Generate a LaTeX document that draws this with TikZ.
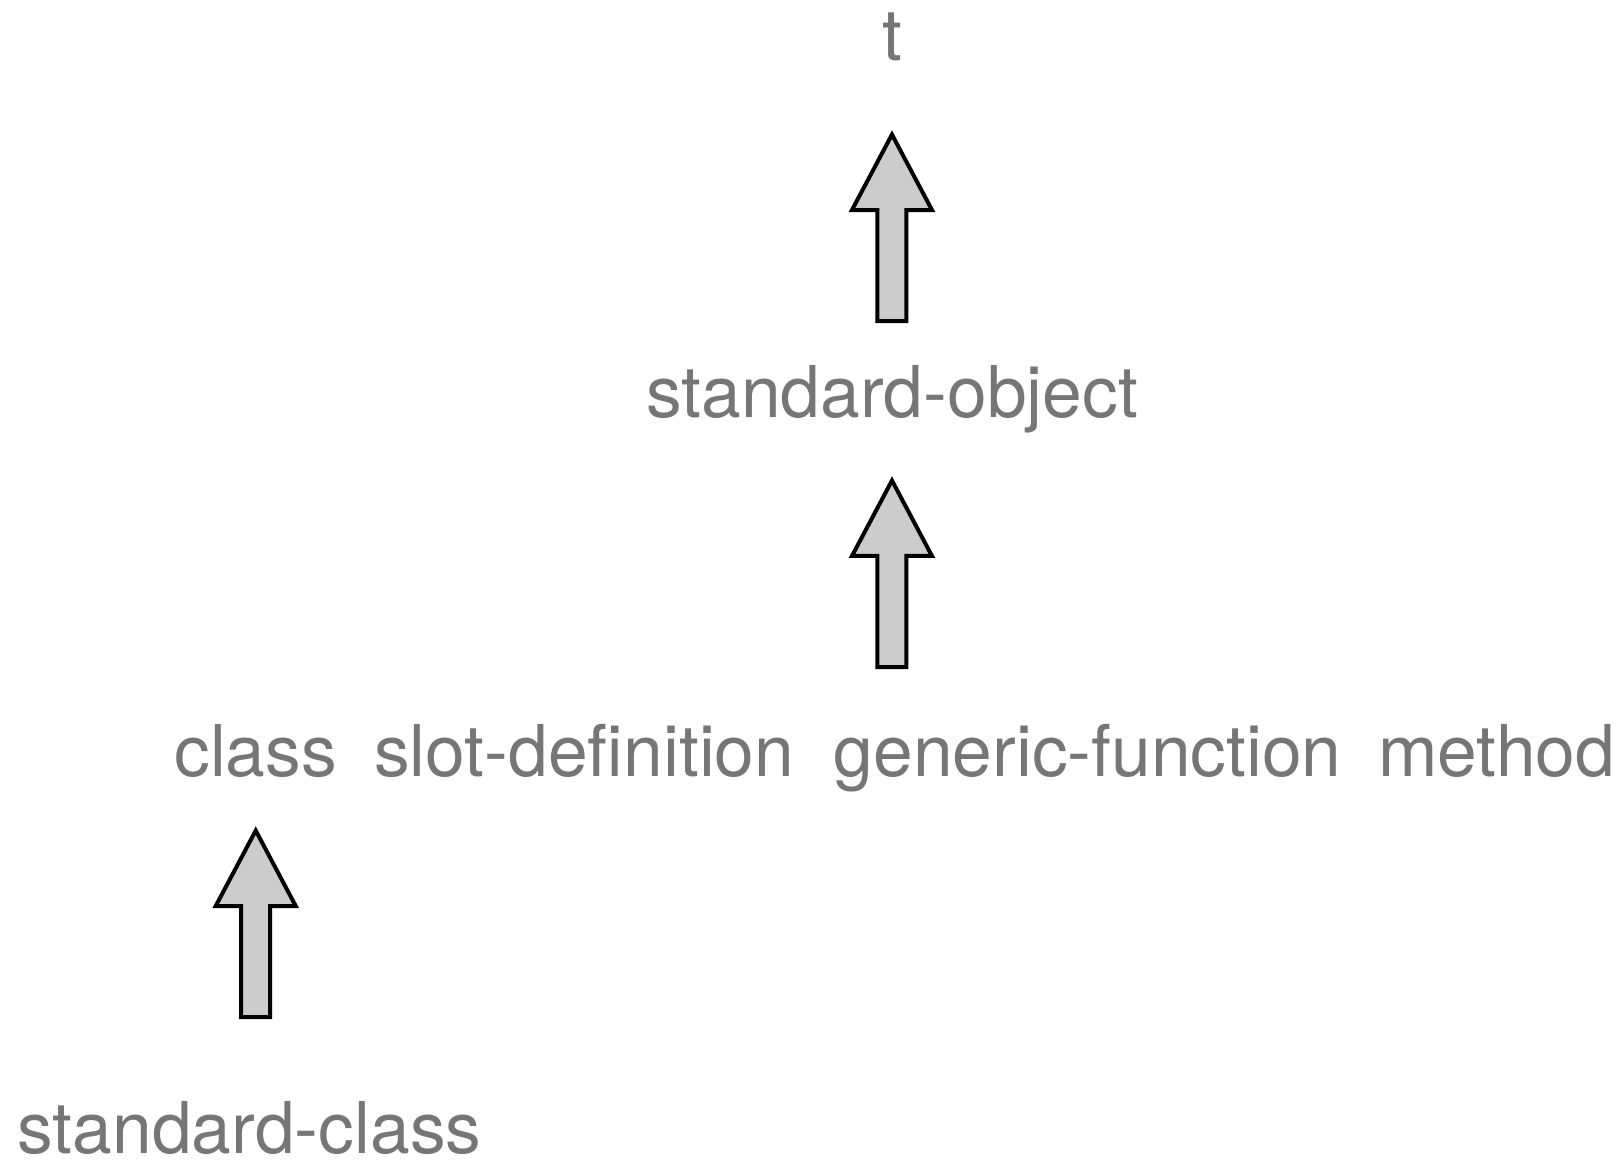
\documentclass[tikz,border=0pt]{standalone}
\usepackage{fontspec}
\setmainfont{TeX Gyre Heros}
\usepackage{xcolor}
\usepackage{tikz}
\usetikzlibrary{calc,positioning}

\definecolor{labelgray}{HTML}{767676}
\definecolor{arrowfill}{HTML}{CCCCCC}

\tikzset{
  cls/.style={text=labelgray, inner sep=0pt, font=\fontsize{35.7pt}{42pt}\selectfont},
  arrowbox/.style={draw=black, fill=arrowfill, line width=2pt, line join=miter}
}

% fat upward arrow, #1 is the middle of its foot
\newcommand{\blockarrow}[1]{%
  \draw[arrowbox] ($#1+(-0.255,0)$) -- ++(0,1.951) -- ++(-0.448,0)
    -- ++(0.703,1.326) -- ++(0.703,-1.326) -- ++(-0.448,0) -- ++(0,-1.951) -- cycle;}

\begin{document}
\begin{tikzpicture}
    \useasboundingbox (0,0) rectangle (28.504,20.456);

    \node [cls, anchor=base] (t) at (15.675,19.401) {t};
    \node [cls, anchor=base] (stdobj) at (15.675,13.127) {standard-object};

    % metaobject classes
    \node [cls, anchor=base west] (class) at (3.058,6.818) {class};
    \node [cls, base right=0.64cm of class] (slotdef) {slot-definition};
    \node [cls, base right=0.68cm of slotdef] (genfun) {generic-function};
    \node [cls, base right=0.63cm of genfun] (method) {method};

    \node [cls, anchor=base west] (stdclass) at (0.30,0.19) {standard-class};

    % superclass arrows
    \blockarrow{(15.675,14.814)}
    \blockarrow{(15.675,8.734)}
    \blockarrow{($(class.base)+(0,-4.235)$)}
\end{tikzpicture}
\end{document}
